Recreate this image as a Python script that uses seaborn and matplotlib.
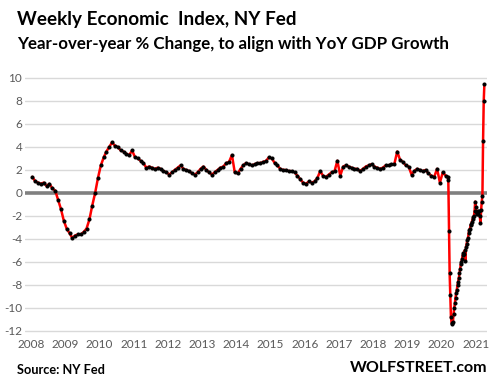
import pandas as pd
import numpy as np
import matplotlib
matplotlib.use("Agg")
import matplotlib.pyplot as plt
import matplotlib.dates as mdates
import seaborn as sns

sns.set_theme(style="white")
plt.rcParams['font.family'] = ['Lato', 'DejaVu Sans']
plt.rcParams['axes.unicode_minus'] = False

# Monthly readings Jan 2008 - Feb 2020
monthly_vals = [
    # 2008
    1.4, 1.0, 0.9, 0.8, 0.9, 0.6, 0.8, 0.4, 0.2, -0.6, -1.4, -2.4,
    # 2009
    -3.1, -3.5, -3.9, -3.7, -3.6, -3.6, -3.4, -3.1, -2.3, -1.1, 0.0, 1.3,
    # 2010
    2.4, 3.1, 3.6, 4.0, 4.4, 4.1, 4.0, 3.7, 3.6, 3.4, 3.3, 3.7,
    # 2011
    3.1, 3.0, 2.8, 2.6, 2.2, 2.3, 2.2, 2.1, 2.2, 2.1, 1.9, 1.8,
    # 2012
    1.6, 1.8, 2.0, 2.2, 2.4, 2.1, 2.0, 1.9, 1.7, 1.6, 1.8, 2.1,
    # 2013
    2.3, 2.0, 1.8, 1.6, 1.8, 2.0, 2.2, 2.3, 2.6, 2.7, 3.3, 1.8,
    # 2014
    1.7, 2.1, 2.4, 2.6, 2.5, 2.4, 2.5, 2.6, 2.6, 2.7, 2.8, 3.1,
    # 2015
    3.0, 2.6, 2.4, 2.1, 2.0, 2.0, 1.9, 1.9, 1.8, 1.5, 1.2, 0.9,
    # 2016
    0.8, 1.0, 0.9, 1.0, 1.3, 1.9, 1.5, 1.4, 1.6, 1.8, 1.9, 2.8,
    # 2017
    1.5, 2.3, 2.4, 2.3, 2.2, 2.1, 2.1, 1.9, 2.1, 2.3, 2.4, 2.5,
    # 2018
    2.3, 2.2, 2.1, 2.2, 2.4, 2.4, 2.5, 2.5, 3.6, 2.9, 2.7, 2.4,
    # 2019
    2.3, 1.6, 1.9, 2.1, 2.0, 1.9, 2.0, 1.7, 1.5, 1.4, 2.1, 0.9,
    # 2020 Jan-Feb
    1.8, 1.5,
]

# Weekly readings 2020-03-07 .. 2021-04-03
weekly_vals = [
    1.4, 1.1, -3.3, -7.0,
    -8.9, -10.8, -11.3, -11.4,
    -11.2, -10.5, -10.0, -9.6, -9.1,
    -8.7, -8.4, -8.0, -7.7,
    -7.4, -7.0, -6.6, -6.2,
    -6.0, -5.7, -5.4, -5.2, -5.3,
    -5.0, -5.9, -4.7, -4.4,
    -4.1, -3.9, -3.5, -3.2, -3.1,
    -2.8, -2.7, -2.5, -2.3,
    -2.1, -2.0, -1.6, -0.75,
    -1.2, -1.8, -1.7, -1.6, -1.8,
    -1.6, -2.0, -2.6, -1.5,
    -0.75, -0.26, 4.5, 8.0,
    9.45,
]

monthly_dates = pd.date_range("2008-01-01", periods=len(monthly_vals), freq="MS") + pd.Timedelta(days=14)
weekly_dates = pd.date_range("2020-03-07", periods=len(weekly_vals), freq="W-SAT")

df = pd.DataFrame({
    "date": list(monthly_dates) + list(weekly_dates),
    "wei": monthly_vals + weekly_vals,
})

year_ticks = list(range(2008, 2022))
y_ticks = list(range(-12, 11, 2))

fig = plt.figure(figsize=(4.9, 3.88), dpi=100)
ax = fig.add_axes([25 / 490, 0.141, 462 / 490, 0.664])

for t in y_ticks:
    if t != 0:
        ax.axhline(t, color="#d9d9d9", linewidth=1.0, zorder=0)
ax.axhline(0, color="#808080", linewidth=2.6, zorder=1)

sns.lineplot(data=df, x="date", y="wei", ax=ax, color="#ff0000", linewidth=1.8,
             marker="o", markersize=2.2, markerfacecolor="black",
             markeredgecolor="black", zorder=3)

ax.set_xlim(pd.Timestamp("2007-10-28"), pd.Timestamp("2021-05-01"))
ax.set_ylim(-12.2, 10.2)
ax.set_xticks([pd.Timestamp(f"{y}-01-01") for y in year_ticks])
ax.set_xticklabels([str(y) for y in year_ticks])
ax.set_yticks(y_ticks)
ax.set_yticklabels([str(t) for t in y_ticks])
ax.tick_params(axis="both", length=0, labelsize=8.5, colors="#595959")
ax.tick_params(axis="x", pad=4)
ax.tick_params(axis="y", pad=2)
ax.set_xlabel("")
ax.set_ylabel("")
ax.grid(False)
for s in ax.spines.values():
    s.set_visible(False)

fig.text(17 / 490, 1 - 19 / 388, "Weekly Economic  Index, NY Fed", fontsize=13.6,
         fontweight="bold", color="black", va="center", ha="left")
fig.text(17 / 490, 1 - 44 / 388, "Year-over-year % Change, to align with YoY GDP Growth",
         fontsize=12.2, fontweight="bold", color="black", va="center", ha="left")
fig.text(17 / 490, 1 - 370 / 388, "Source: NY Fed", fontsize=9.2,
         fontweight="bold", color="black", va="center", ha="left")
fig.text(487 / 490, 1 - 368 / 388, "WOLFSTREET.com", fontsize=11.5,
         fontweight="bold", color="black", va="center", ha="right")

fig.savefig("out.png", dpi=100)
